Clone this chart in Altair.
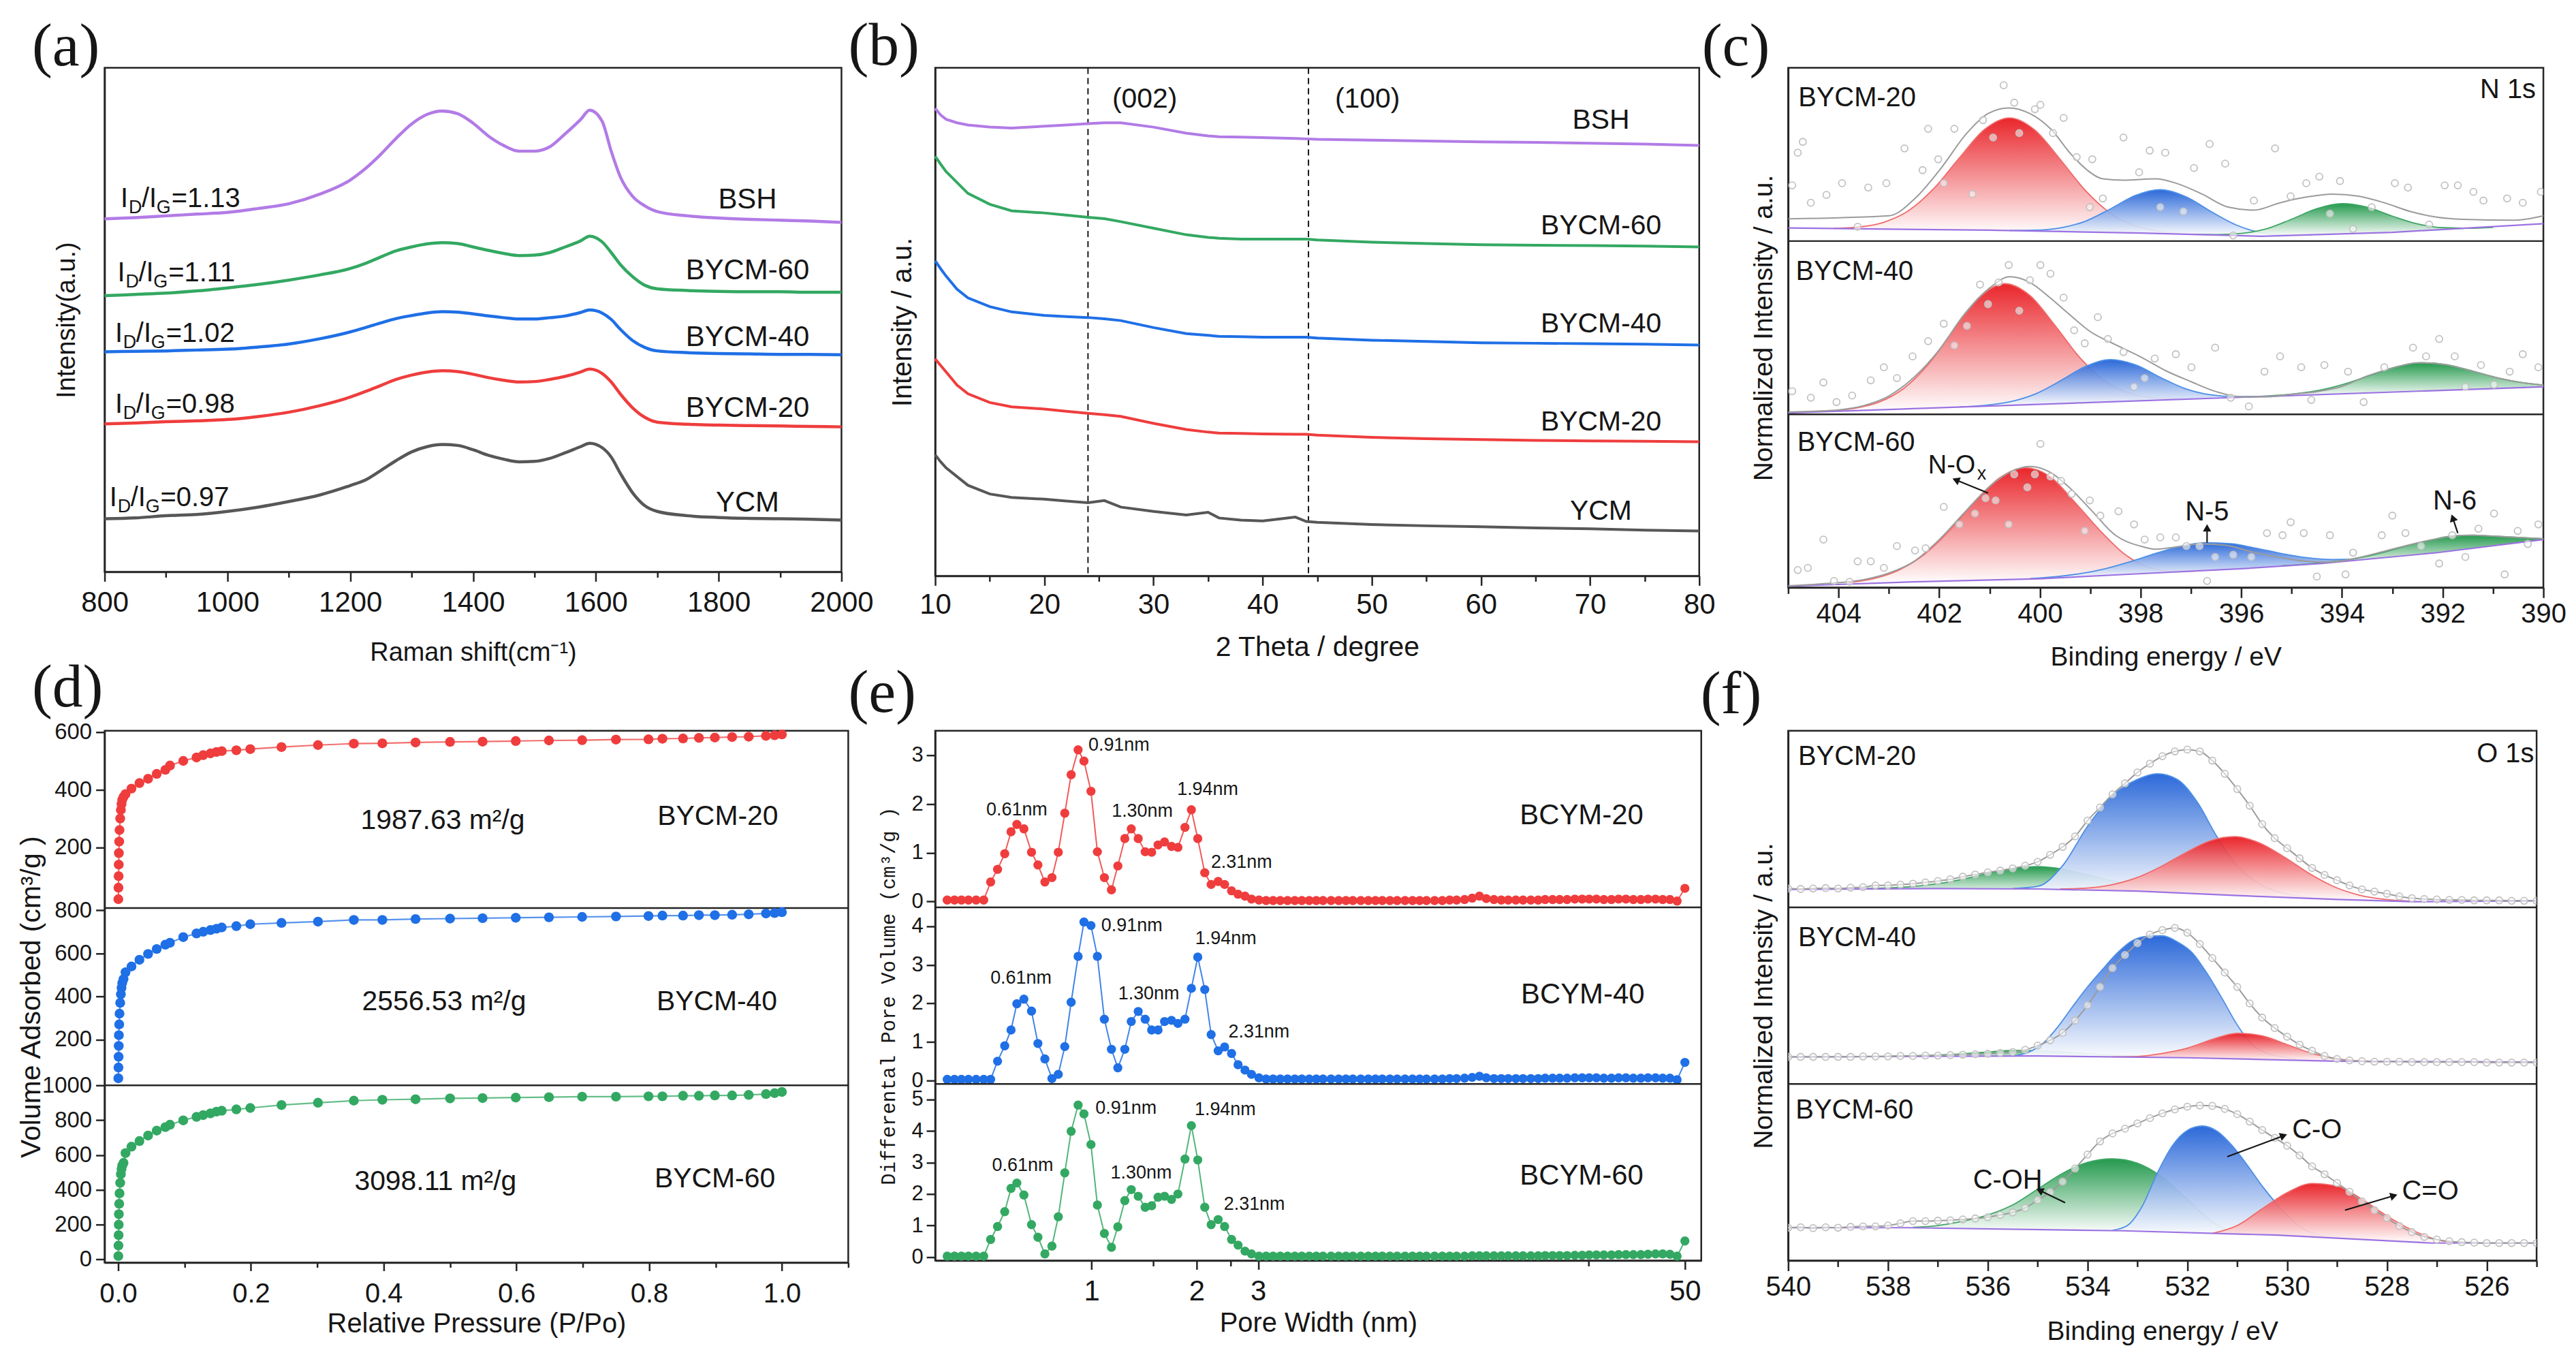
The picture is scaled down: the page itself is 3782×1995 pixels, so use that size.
import altair as alt
import pandas as pd

# ------------------------------------------------------------------ style
SANS = "Liberation Sans"
SERIF = "Liberation Serif"
MONO = "Liberation Mono"
INK = "#161616"
FRAME = "#242424"
PURPLE = "#b27be6"
GREEN = "#33a862"
BLUE = "#1f6fe6"
RED = "#ef3d3d"
GRAY = "#575757"
XPS_RED, XPS_BLUE, XPS_GREEN = "#e8161c", "#1c5ed6", "#149240"
XPS_RED_LINE, XPS_BLUE_LINE, XPS_GREEN_LINE = "#f06a6a", "#4d8fe6", "#3fa565"
XPS_BASE = "#9c72e2"
XPS_FIT = "#9b9b9b"
XPS_DOT = "#c2c2c2"

# ------------------------------------------------------------------ (a) Raman data
RAMAN_X = [800, 850, 900, 950, 1000, 1050, 1100, 1150, 1200, 1225, 1250, 1275, 1300, 1325, 1350, 1375,
           1400, 1425, 1450, 1475, 1500, 1525, 1550, 1575, 1590, 1610, 1625, 1640, 1660, 1680, 1700,
           1750, 1800, 1850, 1900, 1950, 2000]
RAMAN_YCM = [123, 125, 130, 133, 140, 150, 163, 178, 200, 213, 235, 258, 278, 290, 295, 293, 283, 270, 261,
             255, 256, 263, 276, 290, 298, 288, 266, 228, 183, 153, 140, 130, 126, 124, 123, 122, 120]
RAMAN_B20 = [343, 345, 348, 350, 353, 360, 370, 385, 405, 418, 432, 446, 456, 463, 466, 464, 458, 450, 444,
             440, 441, 446, 453, 463, 470, 460, 440, 412, 380, 358, 347, 342, 340, 339, 338, 337, 336]
RAMAN_B40 = [510, 511, 512, 514, 516, 521, 528, 540, 556, 566, 577, 587, 594, 600, 603, 602, 598, 593, 589,
             586, 586, 589, 593, 601, 607, 600, 585, 562, 536, 520, 512, 508, 506, 505, 504, 504, 503]
RAMAN_B60 = [640, 643, 646, 651, 658, 666, 676, 688, 703, 715, 730, 744, 753, 760, 763, 761, 753, 745, 738,
             733, 734, 740, 753, 767, 778, 765, 740, 712, 684, 664, 656, 652, 650, 649, 649, 648, 648]
RAMAN_BSH = [818, 821, 825, 829, 833, 842, 853, 875, 908, 935, 968, 1005, 1038, 1060, 1068, 1062, 1040, 1010,
             988, 975, 975, 985, 1015, 1048, 1070, 1045, 975, 915, 870, 848, 835, 825, 820, 817, 815, 813, 810]
RAMAN_NAMES = ["BSH", "BYCM-60", "BYCM-40", "BYCM-20", "YCM"]
RAMAN_NAME_X = [1847, 1847, 1847, 1847, 1847]
RAMAN_NAME_Y = [863, 698, 543, 380, 160]
RATIO_TXT = ["=1.13", "=1.11", "=1.02", "=0.98", "=0.97"]
RATIO_X = [826, 821, 817, 817, 808]
RATIO_Y = [846, 673, 533, 368, 153]

# ------------------------------------------------------------------ (b) XRD data
XRD_X = [10, 10.5, 11, 12, 13, 15, 17, 20, 22, 24, 25.5, 27, 30, 33, 35, 36, 38, 40, 43, 44, 45, 50, 55, 60,
         65, 70, 75, 80]
XRD_BSH = [1073, 1058, 1048, 1040, 1035, 1030, 1028, 1032, 1035, 1038, 1040, 1040, 1030, 1016, 1010, 1008,
           1007, 1006, 1004, 1003, 1002, 1000, 998, 996, 995, 993, 991, 988]
XRD_B60 = [963, 945, 928, 903, 878, 853, 838, 833, 828, 823, 820, 813, 798, 783, 777, 775, 773, 773, 773, 773,
           771, 766, 763, 760, 759, 758, 757, 755]
XRD_B40 = [723, 705, 688, 658, 638, 618, 606, 598, 595, 593, 590, 586, 570, 556, 552, 550, 549, 548, 548, 548,
           546, 541, 538, 535, 534, 533, 532, 530]
XRD_B20 = [498, 483, 468, 438, 418, 398, 388, 383, 378, 373, 370, 366, 350, 336, 330, 328, 327, 326, 325, 325,
           323, 318, 315, 313, 311, 310, 309, 308]
XRD_YCM = [278, 262, 248, 228, 208, 188, 180, 176, 172, 168, 173, 158, 148, 140, 146, 133, 128, 126, 135, 125,
           123, 118, 115, 113, 110, 108, 105, 103]
XRD_LINES = [24.0, 44.2]
XRD_PEAK_TXT = ["(002)", "(100)"]
XRD_PEAK_X = [29.2, 49.6]
XRD_PEAK_Y = [1093, 1093]
XRD_NAME_X = [71, 71, 71, 71, 71]
XRD_NAME_Y = [1045, 803, 578, 353, 148]

# ------------------------------------------------------------------ (c) N 1s data
C20_NOX_X = [404.1, 403.6, 403.1, 402.6, 402.1, 401.6, 401.1, 400.6, 400.1, 399.6, 399.1, 398.6, 398.1, 397.6, 397.1]
C20_NOX_TOP = [29.1, 32.3, 43.2, 70.5, 121.6, 191, 256.5, 283, 255, 188, 116.6, 64, 34.7, 21.8, 16.6]
C20_NOX_BOT = [28, 27.5, 27, 26.5, 26, 25, 24.5, 24, 23, 22, 21, 20, 18.5, 17, 15.5]
C20_N5_X = [400.6, 400.1, 399.6, 399.1, 398.6, 398.1, 397.6, 397.1, 396.6, 396.1, 395.6, 395.1, 394.6]
C20_N5_TOP = [24.4, 25, 30.2, 45.5, 73.8, 104.9, 118, 101.9, 67.8, 37, 19.2, 14, 14.4]
C20_N5_BOT = [24, 23, 22, 21, 20, 18.5, 17, 15.5, 14, 12.5, 11, 12, 14]
C20_N6_X = [397, 396.5, 396, 395.5, 395, 394.5, 394, 393.5, 393, 392.5, 392, 391.5, 391]
C20_N6_TOP = [15.3, 14.9, 17.7, 28, 50.3, 74.4, 86, 77.9, 57.3, 39.5, 30.7, 29.4, 31.3]
C20_N6_BOT = [15, 13.5, 12, 11, 13, 14.5, 16, 18, 20, 22.5, 25, 28, 31]
C20_BASE_X = [405, 401, 398, 395.6, 393, 390]
C20_BASE_Y = [30, 25, 18.5, 11, 20, 40]
C20_FIT_X = [405, 403.0, 402.48, 401.96, 401.45, 401.03, 400.62, 400.2, 399.79, 399.37, 399.06, 398.75, 398.34,
             397.7, 397.3, 396.78, 396.26, 395.75, 395.23, 394.71, 394.19, 393.67, 393.16, 392.64, 392.12, 391.6,
             390.56, 390]
C20_FIT_Y = [51, 58, 98, 168, 248, 293, 306, 293, 258, 198, 163, 143, 140, 143, 133, 108, 78, 71, 88, 101, 108,
             103, 88, 68, 55, 50, 48, 58]
C20_PTS_X = [404.92, 404.81, 404.71, 404.55, 404.24, 403.93, 403.62, 403.41, 403.05, 402.69, 402.33, 402.22,
             402.02, 401.70, 401.91, 401.34, 401.13, 400.93, 400.72, 400.51, 400.41, 400.10, 399.99, 399.74,
             399.53, 399.27, 398.96, 399.01, 398.75, 398.34, 398.03, 397.82, 397.61, 397.51, 397.15, 396.94,
             396.63, 396.32, 396.16, 395.75, 395.33, 395.02, 394.71, 394.45, 394.24, 394.04, 393.78, 393.41,
             392.95, 392.69, 392.27, 391.96, 391.70, 391.39, 391.19, 390.72, 390.41, 390.05]
C20_PTS_Y = [128, 203, 228, 88, 106, 133, 33, 123, 133, 213, 163, 258, 188, 258, 133, 108, 278, 238, 358, 318,
             248, 303, 313, 248, 283, 193, 188, 78, 98, 238, 158, 208, 78, 203, 68, 168, 223, 178, 13, 93, 213,
             103, 133, 148, 63, 138, 28, 78, 133, 123, 38, 128, 128, 113, 93, 98, 88, 113]

C40_NOX_X = [404.2, 403.7, 403.2, 402.7, 402.2, 401.7, 401.2, 400.7, 400.2, 399.7, 399.2, 398.7, 398.2, 397.7, 397.2]
C40_NOX_TOP = [7.4, 13.4, 27.7, 59.8, 117, 196, 269, 300, 273, 204, 129, 75.8, 47.7, 37.4, 35.4]
C40_NOX_BOT = [6.2, 8.2, 10.2, 12.2, 14.2, 16.2, 18.2, 20.2, 22.2, 24.2, 26.2, 28.2, 30.2, 32.2, 34.2]
C40_N5_X = [401.6, 401.1, 400.6, 400.1, 399.6, 399.1, 398.6, 398.1, 397.6, 397.1, 396.6, 396.1, 395.6]
C40_N5_TOP = [16.9, 20.5, 28.5, 46.2, 76.3, 109.5, 125.6, 113.5, 84.3, 58.2, 44.5, 40.5, 40.9]
C40_N5_BOT = [16.6, 18.6, 20.6, 22.6, 24.6, 26.6, 28.6, 30.6, 32.6, 34.6, 36.6, 38.6, 40.6]
C40_N6_X = [395.9, 395.4, 394.9, 394.4, 393.9, 393.4, 392.9, 392.4, 391.9, 391.4, 390.9, 390.4, 390.0]
C40_N6_TOP = [39.7, 42.6, 47.5, 56.4, 71.4, 91.1, 109.6, 118.4, 113.6, 99.1, 83.4, 72.4, 67]
C40_N6_BOT = [39.4, 41.4, 43.4, 45.4, 47.4, 49.4, 51.4, 53.4, 55.4, 57.4, 59.4, 61.4, 63]
C40_BASE_X = [405, 390]
C40_BASE_Y = [3, 63]
C40_FIT_X = [405, 404.5, 404, 403.5, 403, 402.5, 402, 401.5, 401, 400.6, 400.2, 399.8, 399.4, 399, 398.5, 398,
             397.5, 397, 396.5, 396, 395.5, 395, 394.5, 394, 393.5, 393, 392.5, 392, 391.5, 391, 390.5, 390]
C40_FIT_Y = [5, 7, 10, 20, 42, 85, 148, 230, 290, 316, 303, 268, 228, 190, 160, 132, 100, 75, 52, 40, 40, 46,
             52, 64, 88, 106, 118, 115, 102, 86, 74, 67]
C40_PTS_X = [404.92, 404.55, 404.30, 404.04, 403.73, 403.36, 403.10, 402.84, 402.53, 402.22, 401.91, 401.70,
             401.45, 401.19, 401.03, 400.82, 400.62, 400.41, 400.20, 399.99, 399.79, 399.53, 399.32, 399.11,
             398.85, 398.65, 398.34, 398.13, 397.92, 397.72, 397.30, 396.99, 396.52, 396.21, 395.85, 395.54,
             395.23, 394.81, 394.61, 394.35, 393.88, 393.57, 393.16, 392.59, 392.33, 392.07, 391.76, 391.55,
             391.24, 390.98, 390.67, 390.41, 390.10]
C40_PTS_Y = [53, 38, 73, 28, 43, 78, 108, 83, 133, 168, 208, 158, 203, 298, 253, 303, 343, 238, 308, 343, 323,
             268, 193, 163, 223, 173, 143, 63, 83, 128, 138, 108, 153, 38, 18, 98, 133, 108, 33, 113, 98, 28,
             108, 153, 133, 173, 133, 63, 113, 68, 98, 138, 108]

C60_NOX_X = [403.8, 403.3, 402.8, 402.3, 401.8, 401.3, 400.8, 400.3, 399.8, 399.3, 398.8, 398.3, 397.8, 397.3, 396.8]
C60_NOX_TOP = [11.2, 20.4, 40, 75.8, 130, 196.4, 251.8, 275.2, 255, 195, 130, 75, 45, 37, 38.6]
C60_NOX_BOT = [7.8, 9.8, 11.8, 13.6, 15, 16.4, 17.8, 19.2, 21.2, 24.1, 27.1, 30, 32.8, 35.6, 38.5]
C60_N5_X = [400.2, 399.7, 399.2, 398.7, 398.2, 397.7, 397.2, 396.7, 396.2, 395.7, 395.2, 394.7, 394.2, 393.7, 393.2]
C60_N5_TOP = [20.4, 24.5, 31.7, 43.2, 59.5, 78.3, 94.8, 103, 100.5, 90.1, 77.9, 68.4, 64.2, 65.3, 68.9]
C60_N5_BOT = [19.6, 21.8, 24.7, 27.6, 30.6, 33.4, 36.2, 39, 41.9, 45.2, 49, 52.8, 57.2, 62.6, 68.1]
C60_N6_X = [395.2, 394.7, 394.2, 393.7, 393.2, 392.7, 392.2, 391.8, 391.4, 391.0, 390.5, 390.0]
C60_N6_TOP = [49.5, 53.5, 59, 67, 80, 96, 110, 118.5, 120, 118, 115, 112]
C60_N6_BOT = [49, 52.8, 57.2, 62.6, 68.1, 73.5, 78.9, 84.3, 90, 95.7, 103, 110]
C60_BASE_X = [405, 402.5, 400, 398.3, 396, 394.4, 392.1, 390]
C60_BASE_Y = [3, 13, 20, 30, 43, 55, 80, 110]
C60_FIT_X = [405, 404.5, 404, 403.5, 403, 402.5, 402, 401.5, 401, 400.5, 400.2, 399.8, 399.4, 399, 398.5, 398,
             397.7, 397.3, 396.8, 396.3, 395.8, 395.2, 394.7, 394.3, 393.7, 393.2, 392.7, 392.2, 391.8, 391.4,
             391, 390.5, 390]
C60_FIT_Y = [4, 7, 11, 18, 33, 60, 110, 172, 232, 270, 278, 265, 228, 180, 120, 95, 88, 93, 100, 97, 82, 68,
             60, 58, 68, 82, 97, 110, 118, 120, 118, 115, 112]
C60_PTS_X = [404.81, 404.61, 404.30, 404.09, 403.78, 403.62, 403.36, 403.10, 402.84, 402.48, 402.27, 401.91,
             401.60, 401.29, 401.08, 400.88, 400.62, 400.51, 400.25, 400.10, 399.99, 399.79, 399.58, 399.37,
             399.11, 399.01, 398.80, 398.44, 398.13, 397.92, 397.61, 397.30, 397.09, 396.83, 396.68, 396.52,
             396.16, 395.80, 395.49, 395.18, 395.02, 394.76, 394.50, 394.24, 393.93, 393.78, 393.21, 393.00,
             392.74, 392.43, 392.07, 391.81, 391.55, 391.29, 390.98, 390.77, 390.51, 390.31, 390.10]
C60_PTS_Y = [40, 45, 110, 15, 13, 60, 60, 45, 95, 85, 90, 185, 145, 170, 205, 200, 145, 260, 230, 260, 330,
             255, 245, 215, 130, 200, 165, 175, 145, 110, 115, 115, 95, 95, 15, 70, 75, 70, 125, 120, 150, 125,
             25, 120, 30, 80, 120, 165, 125, 95, 55, 120, 70, 135, 170, 30, 130, 100, 145]

# ------------------------------------------------------------------ (d) BET data
D_P = [0.0002, 0.0004, 0.0006, 0.0008, 0.001, 0.0015, 0.002, 0.003, 0.004, 0.005, 0.006, 0.008,
       0.011, 0.020, 0.032, 0.045, 0.058, 0.071, 0.078, 0.098, 0.118, 0.128, 0.139, 0.148, 0.156, 0.178,
       0.199, 0.246, 0.301, 0.355, 0.398, 0.448, 0.500, 0.549, 0.599, 0.649, 0.699, 0.750, 0.799, 0.820,
       0.851, 0.875, 0.899, 0.925, 0.950, 0.976, 0.989, 1.0]
D_V20 = [20, 60, 100, 140, 180, 220, 260, 300, 330, 350, 365, 375,
         385, 404, 423, 438, 455, 469, 484, 500, 512, 520, 526, 531, 534, 537, 541,
         548, 555, 560, 561, 564, 566, 567, 569, 571, 572, 574, 575, 577, 578, 580, 581, 583, 584, 587, 589, 592]
D_V40 = [20, 70, 120, 170, 220, 270, 320, 370, 410, 440, 462, 480,
         512, 539, 570, 597, 620, 640, 649, 675, 692, 700, 708, 714, 720, 726, 735,
         741, 747, 755, 755, 759, 761, 763, 765, 767, 769, 771, 773, 775, 775, 777, 777, 779, 781, 785, 787, 791]
D_V60 = [20, 80, 140, 200, 260, 320, 380, 440, 490, 520, 540, 555,
         611, 648, 680, 712, 740, 760, 774, 799, 819, 829, 839, 849, 854, 862, 870,
         887, 900, 912, 917, 920, 925, 927, 930, 932, 935, 935, 937, 937, 940, 940, 942, 942, 945, 950, 955, 962]
D_AREA_TXT = ["1987.63 m²/g", "2556.53 m²/g", "3098.11 m²/g"]
D_AREA_X = [0.489, 0.491, 0.478]
D_AREA_Y = [292, 375, 447]
D_NAME_TXT = ["BYCM-20", "BYCM-40", "BYCM-60"]
D_NAME_X = [0.9035, 0.902, 0.899]
D_NAME_Y = [305, 375, 460]

# ------------------------------------------------------------------ (e) pore size data
E_X = [0.386, 0.405, 0.424, 0.444, 0.467, 0.491, 0.514, 0.538, 0.564, 0.588, 0.611, 0.640, 0.673, 0.702,
       0.735, 0.770, 0.803, 0.838, 0.874, 0.915, 0.951, 0.996, 1.039, 1.088, 1.140, 1.189, 1.245, 1.299,
       1.360, 1.424, 1.486, 1.550, 1.618, 1.694, 1.767, 1.851, 1.931, 2.014, 2.109, 2.200, 2.304, 2.404,
       2.517, 2.627, 2.750, 2.870, 3.015,
       3.16, 3.31, 3.47, 3.64, 3.82, 4.0, 4.2, 4.4, 4.6, 4.85, 5.1, 5.35, 5.6, 5.9, 6.2, 6.5, 6.8, 7.15,
       7.5, 7.9, 8.3, 8.7, 9.1, 9.6, 10.1, 10.6, 11.1, 11.7, 12.3, 12.9, 13.5, 14.2, 14.9, 15.6, 16.4,
       17.2, 18.1, 19.0, 19.9, 20.9, 21.9, 23.0, 24.2, 25.4, 26.6, 27.9, 29.3, 30.8, 32.3, 33.9, 35.6,
       37.4, 39.2, 41.2, 43.2, 45.3, 47.5, 50.0]
E_V20 = [0.03, 0.03, 0.03, 0.03, 0.03, 0.03, 0.40, 0.66, 0.98, 1.43, 1.58, 1.49, 1.01, 0.75, 0.40, 0.49,
         1.01, 1.81, 2.60, 3.11, 2.88, 2.26, 1.02, 0.49, 0.24, 0.73, 1.29, 1.49, 1.29, 1.02, 1.01, 1.16,
         1.22, 1.13, 1.11, 1.52, 1.88, 1.29, 0.59, 0.35, 0.41, 0.35, 0.22, 0.15, 0.11, 0.05, 0.03,
         0.02, 0.02, 0.02, 0.02, 0.02, 0.02, 0.02, 0.02, 0.02, 0.02, 0.02, 0.02, 0.02, 0.02, 0.02, 0.02,
         0.02, 0.02, 0.02, 0.02, 0.02, 0.02, 0.02, 0.02, 0.02, 0.03, 0.03, 0.04, 0.07, 0.11, 0.06, 0.04,
         0.03, 0.03, 0.03, 0.03, 0.03, 0.03, 0.04, 0.04, 0.04, 0.04, 0.05, 0.05, 0.05, 0.05, 0.04, 0.04,
         0.05, 0.05, 0.04, 0.04, 0.05, 0.05, 0.04, 0.04, 0.01, 0.27]
E_V40 = [0.03, 0.03, 0.03, 0.03, 0.03, 0.03, 0.03, 0.50, 0.90, 1.31, 1.99, 2.11, 1.80, 0.96, 0.56, 0.05,
         0.16, 0.88, 2.03, 3.22, 4.11, 4.02, 3.22, 1.59, 0.81, 0.33, 0.81, 1.53, 1.79, 1.59, 1.31, 1.31,
         1.53, 1.56, 1.48, 1.59, 2.39, 3.20, 2.36, 1.19, 0.77, 0.87, 0.70, 0.41, 0.27, 0.16, 0.07,
         0.04, 0.04, 0.04, 0.04, 0.04, 0.04, 0.04, 0.04, 0.04, 0.04, 0.04, 0.04, 0.04, 0.04, 0.04, 0.04,
         0.04, 0.04, 0.04, 0.04, 0.04, 0.04, 0.04, 0.04, 0.04, 0.05, 0.05, 0.06, 0.08, 0.11, 0.07, 0.05,
         0.05, 0.05, 0.05, 0.05, 0.05, 0.05, 0.06, 0.06, 0.06, 0.06, 0.07, 0.07, 0.07, 0.07, 0.06, 0.06,
         0.07, 0.07, 0.06, 0.06, 0.07, 0.07, 0.06, 0.06, 0.02, 0.47]
E_V60 = [0.03, 0.03, 0.03, 0.03, 0.03, 0.03, 0.56, 0.97, 1.44, 2.18, 2.35, 1.97, 1.03, 0.63, 0.10, 0.35,
         1.28, 2.67, 3.99, 4.82, 4.54, 3.57, 1.65, 0.75, 0.31, 0.96, 1.79, 2.14, 1.93, 1.58, 1.63, 1.90,
         1.93, 1.83, 2.00, 3.11, 4.17, 3.08, 1.58, 1.03, 1.19, 0.97, 0.56, 0.38, 0.19, 0.10, 0.03,
         0.03, 0.03, 0.03, 0.03, 0.03, 0.03, 0.03, 0.03, 0.03, 0.03, 0.03, 0.03, 0.03, 0.03, 0.03, 0.03,
         0.03, 0.03, 0.03, 0.03, 0.03, 0.03, 0.03, 0.03, 0.03, 0.03, 0.03, 0.03, 0.04, 0.04, 0.04, 0.04,
         0.04, 0.04, 0.04, 0.04, 0.04, 0.04, 0.05, 0.05, 0.05, 0.05, 0.06, 0.06, 0.07, 0.07, 0.07, 0.07,
         0.08, 0.08, 0.08, 0.08, 0.09, 0.10, 0.10, 0.09, 0.03, 0.51]
E_PEAK_TXT = ["0.61nm", "0.91nm", "1.30nm", "1.94nm", "2.31nm"]
E20_PEAK_X = [0.611, 1.198, 1.397, 2.15, 2.688]
E20_PEAK_Y = [1.87, 3.20, 1.85, 2.30, 0.80]
E40_PEAK_X = [0.628, 1.304, 1.458, 2.423, 3.015]
E40_PEAK_Y = [2.66, 4.02, 2.25, 3.68, 1.25]
E60_PEAK_X = [0.635, 1.255, 1.387, 2.414, 2.925]
E60_PEAK_Y = [2.90, 4.71, 2.67, 4.68, 1.67]
E_NAME_TXT = ["BCYM-20", "BCYM-40", "BCYM-60"]
E_NAME_X = [25.3, 25.5, 25.3]
E_NAME_Y = [1.77, 2.22, 2.57]

# ------------------------------------------------------------------ (f) O 1s data
F_X = [540, 539.75, 539.5, 539.25, 539, 538.75, 538.5, 538.25, 538, 537.75, 537.5, 537.25, 537, 536.75,
       536.5, 536.25, 536, 535.75, 535.5, 535.25, 535, 534.75, 534.5, 534.25, 534, 533.75, 533.5, 533.25,
       533, 532.75, 532.5, 532.25, 532, 531.75, 531.5, 531.25, 531, 530.75, 530.5, 530.25, 530, 529.75,
       529.5, 529.25, 529, 528.75, 528.5, 528.25, 528, 527.75, 527.5, 527.25, 527, 526.75, 526.5, 526.25,
       526, 525.75, 525.5, 525.25, 525]
F20_PTS = [43, 42, 43, 44, 43, 45, 46, 50, 50, 52, 54, 57, 60, 64, 70, 75, 80, 84, 89, 95, 104, 120, 138,
           162, 198, 228, 258, 283, 308, 328, 345, 356, 360, 356, 335, 305, 270, 232, 190, 158, 135, 112, 90,
           74, 62, 50, 41, 36, 31, 25, 21, 19, 18, 17, 17, 16, 16, 16, 15, 15, 15]
F40_PTS = [62, 62, 62, 62, 62, 62, 63, 63, 63, 64, 64, 65, 65, 66, 67, 68, 69, 71, 73, 78, 88, 100, 117, 145,
           180, 222, 265, 295, 322, 342, 352, 357, 346, 320, 288, 255, 222, 184, 152, 128, 108, 90, 76, 64, 57,
           54, 52, 51, 51, 51, 50, 50, 50, 50, 50, 50, 49, 49, 49, 49, 49]
F60_PTS = [75, 76, 74, 76, 75, 77, 78, 78, 80, 85, 90, 90, 91, 92, 94, 96, 99, 104, 110, 120, 138, 156, 180,
           210, 242, 272, 290, 301, 313, 325, 336, 345, 351, 354, 353, 346, 334, 317, 298, 280, 262, 240, 215,
           197, 177, 157, 135, 115, 97, 79, 65, 54, 48, 44, 42, 41, 40, 40, 40, 40, 40]
F20_COH_X = [538.5, 538, 537.5, 537, 536.5, 536, 535.5, 535, 534.5, 534, 533.5, 533, 532.5, 532, 531.5]
F20_COH_TOP = [43, 44.4, 47.5, 54.1, 64.5, 77.4, 88.7, 93, 87.2, 74.4, 60, 48.1, 39.2, 33.7, 30]
F20_COH_BOT = [42.5, 42.7, 42.8, 43, 42.8, 42.5, 42.3, 42, 40.8, 39.5, 38.3, 37, 34.5, 32, 29.5]
F20_CO_X = [535.5, 535, 534.5, 534, 533.5, 533, 532.6, 532.2, 531.8, 531.4, 531, 530.5, 530, 529.5]
F20_CO_TOP = [43, 48, 95, 185, 255, 292, 305, 292, 240, 160, 95, 50, 30, 22]
F20_CO_BOT = [42.3, 42, 40.8, 39.5, 38.3, 37, 35, 33, 31, 29, 27, 24.8, 22.5, 20.3]
F20_CEO_X = [534.55, 534.05, 533.55, 533.05, 532.55, 532.05, 531.55, 531.05, 530.55, 530.05, 529.55, 529.05,
             528.55, 528.05, 527.55]
F20_CEO_TOP = [42.1, 43.9, 50.8, 66.2, 91.8, 123.7, 151.6, 161.5, 146.8, 114.2, 77, 46.7, 28, 18.4, 14.3]
F20_CEO_BOT = [40.8, 39.5, 38.3, 37, 34.8, 32, 29.8, 27.5, 25, 22.5, 20, 17.5, 15.5, 14, 13]
F20_BASE_X = [540, 537, 535, 533, 531, 529, 527.5, 525]
F20_BASE_Y = [41, 43, 42, 37, 27, 18, 13, 15]

F40_COH_X = [538, 537.5, 537, 536.5, 536, 535.5, 535, 534.5, 534, 533.5, 533]
F40_COH_TOP = [63.5, 64.5, 66, 69, 73, 77, 76, 73, 69, 66, 63.5]
F40_COH_BOT = [63, 63.5, 63.8, 64, 64, 64, 64, 63.3, 62.7, 62, 61.3]
F40_CO_X = [535.5, 535.2, 534.9, 534.6, 534.3, 534, 533.7, 533.4, 533.1, 532.8, 532.5, 532.2, 531.9, 531.6,
            531.3, 531, 530.7, 530.4, 530.1, 529.8]
F40_CO_TOP = [64, 72, 92, 130, 177, 222, 262, 300, 328, 338, 339, 325, 300, 252, 195, 135, 90, 70, 62, 57]
F40_CO_BOT = [64, 64, 63.7, 63.3, 62.7, 62.3, 62, 61.5, 61, 60.6, 60.3, 59.7, 59, 58.3, 57.5, 57, 56, 55.3,
              54.5, 53.8]
F40_CEO_X = [533.5, 533, 532.5, 532, 531.5, 531, 530.5, 530, 529.5, 529, 528.5, 528]
F40_CEO_TOP = [62, 63, 70, 82, 102, 116, 110, 90, 70, 58, 52.5, 51]
F40_CEO_BOT = [62, 61.3, 60.3, 59.3, 58, 57, 55.6, 54.4, 53.2, 52, 51.5, 51]
F40_BASE_X = [540, 535, 532, 529, 525]
F40_BASE_Y = [62, 64, 60, 52, 50]

F60_COH_X = [537.5, 537, 536.5, 536, 535.5, 535, 534.5, 534, 533.5, 533, 532.5, 532, 531.5, 531.2]
F60_COH_TOP = [76, 80, 90, 104, 127, 163, 199, 224, 232, 222, 190, 140, 88, 70]
F60_COH_BOT = [75, 74, 73, 72.5, 71.5, 71, 70, 69.3, 68.5, 67.5, 66, 64, 62, 61]
F60_CO_X = [533.5, 533.2, 532.9, 532.6, 532.3, 532, 531.7, 531.4, 531.1, 530.8, 530.5, 530.2, 529.9, 529.6, 529.3]
F60_CO_TOP = [69, 80, 125, 200, 262, 297, 307, 295, 262, 218, 170, 128, 92, 68, 56]
F60_CO_BOT = [68.5, 67.7, 66.8, 65.8, 64.8, 63.8, 62.9, 61.9, 60.9, 59.9, 59, 58, 56.3, 54.5, 52.8]
F60_CEO_X = [531.5, 531, 530.5, 530, 529.5, 529, 528.5, 528, 527.5, 527, 526.7]
F60_CEO_TOP = [62, 80, 118, 155, 176, 170, 140, 102, 70, 48, 41]
F60_CEO_BOT = [62, 60.6, 59, 56.8, 53.9, 51, 48, 45.2, 42.3, 40, 40]
F60_BASE_X = [540, 537.6, 533.3, 530.2, 527.1, 525]
F60_BASE_Y = [75, 75, 68, 58, 40, 40]


# ------------------------------------------------------------------ helpers
def frame(**cols):
    n = min(len(v) for v in cols.values())
    return pd.DataFrame({k: list(v)[:n] for k, v in cols.items()})


def series_df(x, pairs):
    rows = []
    for name, ys in pairs:
        for xv, yv in zip(x, ys):
            rows.append({"x": xv, "y": yv, "s": name})
    return pd.DataFrame(rows)


def tick_rule(test, major, minor):
    return {"condition": {"test": test, "value": major}, "value": minor}


def panel_title(text, dx, offset):
    return alt.TitleParams(text, dx=dx, offset=offset, anchor="start", frame="group",
                           baseline="alphabetic", font=SERIF, fontSize=90, fontWeight="normal", color=INK)


def grad(color):
    return alt.Gradient(gradient="linear",
                        stops=[alt.GradientStop(color=color, offset=0),
                               alt.GradientStop(color="#ffffff", offset=1)],
                        x1=1, x2=1, y1=0, y2=1)


def text_layer(xs, ys, ts, X, Y, size=40, align="center", baseline="middle", dx=0, dy=0, font=SANS):
    return alt.Chart(frame(x=xs, y=ys, t=ts)).mark_text(
        fontSize=size, align=align, baseline=baseline, dx=dx, dy=dy, color=INK, font=font
    ).encode(x=X, y=Y("y:Q"), text="t:N")


def arrow_layers(x0, y0, x1, y1, ang, X, Y):
    shaft = alt.Chart(frame(x=[x0, x1], y=[y0, y1])).mark_line(color=INK, strokeWidth=2.2).encode(
        x=X, y=Y("y:Q"))
    head = alt.Chart(frame(x=[x1], y=[y1], a=[ang])).mark_point(
        shape="triangle-up", filled=True, size=150, color=INK, opacity=1
    ).encode(x=X, y=Y("y:Q"), angle=alt.Angle("a:Q", scale=None))
    return [shaft, head]


# ------------------------------------------------------------------ panel (a)
W_A, H_A = 1085, 742
XA = alt.X("x:Q", scale=alt.Scale(domain=[800, 2000], nice=False, zero=False),
           axis=alt.Axis(title="Raman shift(cm⁻¹)",
                         values=[800, 900, 1000, 1100, 1200, 1300, 1400, 1500, 1600, 1700, 1800, 1900, 2000],
                         format="d", labelExpr="datum.value % 200 === 0 ? datum.label : ''",
                         tickSize=tick_rule("datum.value % 200 === 0", 14, 8),
                         labelFontSize=42, labelPadding=11, titleFontSize=38, titlePadding=34))
YA_S = alt.Scale(domain=[0, 1168], nice=False, zero=False)
YA_AX = alt.Axis(title="Intensity(a.u.)", labels=False, ticks=False, titleFontSize=38, titlePadding=36)


def YA(f):
    return alt.Y(f, scale=YA_S, axis=YA_AX)


a_df = series_df(RAMAN_X, [("YCM", RAMAN_YCM), ("BYCM-20", RAMAN_B20), ("BYCM-40", RAMAN_B40),
                           ("BYCM-60", RAMAN_B60), ("BSH", RAMAN_BSH)])
a_layers = [
    alt.Chart(a_df).mark_line(strokeWidth=4.5, interpolate="monotone").encode(
        x=XA, y=YA("y:Q"),
        color=alt.Color("s:N", scale=alt.Scale(domain=["YCM", "BYCM-20", "BYCM-40", "BYCM-60", "BSH"],
                                               range=[GRAY, RED, BLUE, GREEN, PURPLE]), legend=None)),
    text_layer(RAMAN_NAME_X, RAMAN_NAME_Y, RAMAN_NAMES, XA, YA, size=42),
]
ratio_df = frame(x=RATIO_X, y=RATIO_Y, t=RATIO_TXT)
for piece, pdx, pdy, fs in [("I", 0, 0, 40), ("D", 12, 9, 27), ("/I", 31, 0, 40), ("G", 53, 9, 27)]:
    a_layers.append(alt.Chart(ratio_df).mark_text(text=piece, dx=pdx, dy=pdy, fontSize=fs, align="left",
                                                  baseline="alphabetic", color=INK).encode(x=XA, y=YA("y:Q")))
a_layers.append(alt.Chart(ratio_df).mark_text(dx=75, fontSize=40, align="left", baseline="alphabetic",
                                              color=INK).encode(x=XA, y=YA("y:Q"), text="t:N"))
TOP_OFF = -86
panel_a = alt.layer(*a_layers).properties(width=W_A, height=H_A, title=panel_title("(a)", -107, TOP_OFF))

# ------------------------------------------------------------------ panel (b)
W_B, H_B = 1125, 748
XB = alt.X("x:Q", scale=alt.Scale(domain=[10, 80], nice=False, zero=False),
           axis=alt.Axis(title="2 Theta / degree",
                         values=[10, 15, 20, 25, 30, 35, 40, 45, 50, 55, 60, 65, 70, 75, 80],
                         format="d", labelExpr="datum.value % 10 === 0 ? datum.label : ''",
                         tickSize=tick_rule("datum.value % 10 === 0", 14, 8),
                         labelFontSize=42, labelPadding=8, titleFontSize=41, titlePadding=22))
YB_S = alt.Scale(domain=[0, 1166], nice=False, zero=False)
YB_AX = alt.Axis(title="Intensity / a.u.", labels=False, ticks=False, titleFontSize=40, titlePadding=28)


def YB(f):
    return alt.Y(f, scale=YB_S, axis=YB_AX)


b_df = series_df(XRD_X, [("YCM", XRD_YCM), ("BYCM-20", XRD_B20), ("BYCM-40", XRD_B40),
                         ("BYCM-60", XRD_B60), ("BSH", XRD_BSH)])
b_layers = [
    alt.Chart(frame(x=XRD_LINES)).mark_rule(color=INK, strokeWidth=2, strokeDash=[9, 6]).encode(x=XB),
    alt.Chart(b_df).mark_line(strokeWidth=4).encode(
        x=XB, y=YB("y:Q"),
        color=alt.Color("s:N", scale=alt.Scale(domain=["YCM", "BYCM-20", "BYCM-40", "BYCM-60", "BSH"],
                                               range=[GRAY, RED, BLUE, GREEN, PURPLE]), legend=None)),
    text_layer(XRD_PEAK_X, XRD_PEAK_Y, XRD_PEAK_TXT, XB, YB, size=41),
    text_layer(XRD_NAME_X, XRD_NAME_Y, RAMAN_NAMES, XB, YB, size=41),
]
panel_b = alt.layer(*b_layers).properties(width=W_B, height=H_B, title=panel_title("(b)", -128, TOP_OFF))


# ------------------------------------------------------------------ XPS helper
def xps_sub(X, ydom, yrange, comps, base, fit, pts, texts, arrows, title_text, sep):
    ys = alt.Scale(domain=ydom, range=yrange, nice=False, zero=False)
    if title_text:
        yax = alt.Axis(orient="left", labels=False, ticks=False, title=title_text, titleFontSize=39,
                       titlePadding=16)
    else:
        yax = alt.Axis(orient="left", labels=False, ticks=False, title=None)

    def Y(f):
        return alt.Y(f, scale=ys, axis=yax)

    layers = []
    for cx, top, bot, fillc, linec in comps:
        df = frame(x=cx, top=top, bot=bot)
        layers.append(alt.Chart(df).mark_area(interpolate="monotone", color=grad(fillc), opacity=0.93,
                                              clip=True).encode(x=X, y=Y("top:Q"), y2="bot:Q"))
        layers.append(alt.Chart(df).mark_line(interpolate="monotone", color=linec, strokeWidth=1.8,
                                              clip=True).encode(x=X, y=Y("top:Q")))
    layers.append(alt.Chart(frame(x=base[0], y=base[1])).mark_line(color=XPS_BASE, strokeWidth=2.2,
                                                                   clip=True).encode(x=X, y=Y("y:Q")))
    layers.append(alt.Chart(frame(x=fit[0], y=fit[1])).mark_line(color=XPS_FIT, strokeWidth=2,
                                                                 interpolate="monotone", clip=True).encode(
        x=X, y=Y("y:Q")))
    layers.append(alt.Chart(frame(x=pts[0], y=pts[1])).mark_point(
        shape="circle", size=100, filled=True, fill="#ffffff", fillOpacity=0.55, stroke=XPS_DOT,
        strokeWidth=1.8, opacity=1, clip=True).encode(x=X, y=Y("y:Q")))
    for t in texts:
        layers.append(text_layer([t[0]], [t[1]], [t[2]], X, Y, size=t[3], align=t[4],
                                 baseline=t[5], dx=t[6], dy=t[7]))
    for a in arrows:
        layers.extend(arrow_layers(a[0], a[1], a[2], a[3], a[4], X, Y))
    if sep:
        layers.append(alt.Chart(frame(y=[ydom[0]])).mark_rule(color=FRAME, strokeWidth=2.5).encode(y=Y("y:Q")))
    return alt.layer(*layers)


# ------------------------------------------------------------------ panel (c)
W_C, H_C = 1112, 765
XC = alt.X("x:Q", scale=alt.Scale(domain=[390, 405], reverse=True, nice=False, zero=False),
           axis=alt.Axis(title="Binding energy / eV",
                         values=[390, 391, 392, 393, 394, 395, 396, 397, 398, 399, 400, 401, 402, 403, 404, 405],
                         format="d", labelExpr="datum.value % 2 === 0 ? datum.label : ''",
                         tickSize=tick_rule("datum.value % 2 === 0", 15, 9),
                         labelFontSize=40, labelPadding=4, titleFontSize=39, titlePadding=24))
c_top = xps_sub(XC, [0, 398], [255, 0],
                [(C20_NOX_X, C20_NOX_TOP, C20_NOX_BOT, XPS_RED, XPS_RED_LINE),
                 (C20_N5_X, C20_N5_TOP, C20_N5_BOT, XPS_BLUE, XPS_BLUE_LINE),
                 (C20_N6_X, C20_N6_TOP, C20_N6_BOT, XPS_GREEN, XPS_GREEN_LINE)],
                (C20_BASE_X, C20_BASE_Y), (C20_FIT_X, C20_FIT_Y), (C20_PTS_X, C20_PTS_Y),
                [(404.8, 328, "BYCM-20", 40, "left", "middle", 0, 0),
                 (390.15, 348, "N 1s", 40, "right", "middle", 0, 0)],
                [], None, True)
c_mid = xps_sub(XC, [0, 398], [510, 255],
                [(C40_NOX_X, C40_NOX_TOP, C40_NOX_BOT, XPS_RED, XPS_RED_LINE),
                 (C40_N5_X, C40_N5_TOP, C40_N5_BOT, XPS_BLUE, XPS_BLUE_LINE),
                 (C40_N6_X, C40_N6_TOP, C40_N6_BOT, XPS_GREEN, XPS_GREEN_LINE)],
                (C40_BASE_X, C40_BASE_Y), (C40_FIT_X, C40_FIT_Y), (C40_PTS_X, C40_PTS_Y),
                [(404.85, 328, "BYCM-40", 40, "left", "middle", 0, 0)],
                [], "Normalized Intensity / a.u.", True)
c_bot = xps_sub(XC, [0, 398], [765, 510],
                [(C60_NOX_X, C60_NOX_TOP, C60_NOX_BOT, XPS_RED, XPS_RED_LINE),
                 (C60_N5_X, C60_N5_TOP, C60_N5_BOT, XPS_BLUE, XPS_BLUE_LINE),
                 (C60_N6_X, C60_N6_TOP, C60_N6_BOT, XPS_GREEN, XPS_GREEN_LINE)],
                (C60_BASE_X, C60_BASE_Y), (C60_FIT_X, C60_FIT_Y), (C60_PTS_X, C60_PTS_Y),
                [(404.82, 332, "BYCM-60", 40, "left", "middle", 0, 0),
                 (402.22, 262, "N-O", 38, "left", "alphabetic", 0, 0),
                 (402.22, 262, "x", 27, "left", "alphabetic", 72, 9),
                 (396.68, 172, "N-5", 40, "center", "middle", 0, 0),
                 (391.76, 198, "N-6", 40, "center", "middle", 0, 0)],
                [(401.03, 217, 401.67, 247, 292), (396.68, 103, 396.68, 137, 0), (391.7, 125, 391.8, 160, 341)],
                None, False)
panel_c = alt.layer(c_top, c_mid, c_bot).resolve_scale(y="independent").resolve_axis(y="independent").properties(
    width=W_C, height=H_C, title=panel_title("(c)", -127, TOP_OFF))

# ------------------------------------------------------------------ panel (d)
W_D, H_D = 1095, 783
XD = alt.X("x:Q", scale=alt.Scale(domain=[-0.0205, 1.1], nice=False, zero=False),
           axis=alt.Axis(title="Relative Pressure (P/Po)",
                         values=[0.0, 0.1, 0.2, 0.3, 0.4, 0.5, 0.6, 0.7, 0.8, 0.9, 1.0, 1.1],
                         labelExpr="(round(datum.value * 10) % 2 === 0 && datum.value < 1.05) ? format(datum.value, '.1f') : ''",
                         tickSize=tick_rule("round(datum.value * 10) % 2 === 0 && datum.value < 1.05", 12, 7),
                         labelFontSize=40, labelPadding=14, titleFontSize=40, titlePadding=4))


def bet_sub(P, V, color, ydom, yrange, yvals, title_text, texts, sep):
    ys = alt.Scale(domain=ydom, range=yrange, nice=False, zero=False)
    if title_text:
        yax = alt.Axis(orient="left", values=yvals, format="d", tickSize=13, labelFontSize=33, labelPadding=6,
                       title=title_text, titleFontSize=41, titlePadding=12)
    else:
        yax = alt.Axis(orient="left", values=yvals, format="d", tickSize=13, labelFontSize=33, labelPadding=6,
                       title=None)

    def Y(f):
        return alt.Y(f, scale=ys, axis=yax)

    df = frame(x=P, y=V)
    layers = [
        alt.Chart(df).mark_line(color=color, strokeWidth=2.2, opacity=0.75).encode(x=XD, y=Y("y:Q")),
        alt.Chart(df).mark_circle(color=color, size=210, opacity=1).encode(x=XD, y=Y("y:Q")),
    ]
    for t in texts:
        layers.append(text_layer([t[0]], [t[1]], [t[2]], XD, Y, size=41))
    if sep:
        layers.append(alt.Chart(frame(y=[ydom[0]])).mark_rule(color=FRAME, strokeWidth=2.5).encode(y=Y("y:Q")))
    return alt.layer(*layers)


d_top = bet_sub(D_P, D_V20, RED, [-10.8, 604.6], [261, 0], [200, 400, 600], None,
                [(D_AREA_X[0], D_AREA_Y[0], D_AREA_TXT[0]), (D_NAME_X[0], D_NAME_Y[0], D_NAME_TXT[0])], True)
d_mid = bet_sub(D_P, D_V40, BLUE, [-12.7, 810], [522, 261], [200, 400, 600, 800], "Volume Adsorbed (cm³/g )",
                [(D_AREA_X[1], D_AREA_Y[1], D_AREA_TXT[1]), (D_NAME_X[1], D_NAME_Y[1], D_NAME_TXT[1])], True)
d_bot = bet_sub(D_P, D_V60, GREEN, [-17.7, 1000], [783, 522], [0, 200, 400, 600, 800, 1000], None,
                [(D_AREA_X[2], D_AREA_Y[2], D_AREA_TXT[2]), (D_NAME_X[2], D_NAME_Y[2], D_NAME_TXT[2])], False)
panel_d = alt.layer(d_top, d_mid, d_bot).resolve_scale(y="independent").resolve_axis(y="independent").properties(
    width=W_D, height=H_D, title=panel_title("(d)", -107, -68))

# ------------------------------------------------------------------ panel (e)
W_E, H_E = 1128, 780
XE = alt.X("x:Q", scale=alt.Scale(type="log", domain=[0.3566, 55.7], nice=False, zero=False),
           axis=alt.Axis(title="Pore Width (nm)", values=[1, 1.5, 2, 2.5, 3, 26.5, 50],
                         labelExpr="(datum.value === 1 || datum.value === 2 || datum.value === 3 || datum.value === 50) ? format(datum.value, 'd') : ''",
                         tickSize=tick_rule("datum.value === 1 || datum.value === 2 || datum.value === 3 || datum.value === 50", 13, 8),
                         labelFontSize=42, labelPadding=12, titleFontSize=40, titlePadding=6))


def psd_sub(V, color, ydom, yrange, yvals, title_text, peak_x, peak_y, name, sep):
    ys = alt.Scale(domain=ydom, range=yrange, nice=False, zero=False)
    if title_text:
        yax = alt.Axis(orient="left", values=yvals, format="d", tickSize=13, labelFontSize=31, labelPadding=5,
                       title=title_text, titleFont=MONO, titleFontSize=29, titlePadding=18)
    else:
        yax = alt.Axis(orient="left", values=yvals, format="d", tickSize=13, labelFontSize=31, labelPadding=5,
                       title=None)

    def Y(f):
        return alt.Y(f, scale=ys, axis=yax)

    df = frame(x=E_X, y=V)
    layers = [
        alt.Chart(df).mark_line(color=color, strokeWidth=2, opacity=0.85).encode(x=XE, y=Y("y:Q")),
        alt.Chart(df).mark_circle(color=color, size=180, opacity=1).encode(x=XE, y=Y("y:Q")),
        text_layer(peak_x, peak_y, E_PEAK_TXT, XE, Y, size=27),
        text_layer([name[0]], [name[1]], [name[2]], XE, Y, size=42),
    ]
    if sep:
        layers.append(alt.Chart(frame(y=[ydom[0]])).mark_rule(color=FRAME, strokeWidth=2.5).encode(y=Y("y:Q")))
    return alt.layer(*layers)


e_top = psd_sub(E_V20, RED, [-0.12, 3.5], [260, 0], [0, 1, 2, 3], None, E20_PEAK_X, E20_PEAK_Y,
                (E_NAME_X[0], E_NAME_Y[0], E_NAME_TXT[0]), True)
e_mid = psd_sub(E_V40, BLUE, [-0.09, 4.49], [520, 260], [0, 1, 2, 3, 4], "Differental Pore Volume (cm³/g )",
                E40_PEAK_X, E40_PEAK_Y, (E_NAME_X[1], E_NAME_Y[1], E_NAME_TXT[1]), True)
e_bot = psd_sub(E_V60, GREEN, [-0.11, 5.49], [780, 520], [0, 1, 2, 3, 4, 5], None, E60_PEAK_X, E60_PEAK_Y,
                (E_NAME_X[2], E_NAME_Y[2], E_NAME_TXT[2]), False)
panel_e = alt.layer(e_top, e_mid, e_bot).resolve_scale(y="independent").resolve_axis(y="independent").properties(
    width=W_E, height=H_E, title=panel_title("(e)", -128, -62))

# ------------------------------------------------------------------ panel (f)
W_F, H_F = 1102, 780
XF = alt.X("x:Q", scale=alt.Scale(domain=[525, 540], reverse=True, nice=False, zero=False),
           axis=alt.Axis(title="Binding energy / eV",
                         values=[525, 526, 527, 528, 529, 530, 531, 532, 533, 534, 535, 536, 537, 538, 539, 540],
                         format="d", labelExpr="datum.value % 2 === 0 ? datum.label : ''",
                         tickSize=tick_rule("datum.value % 2 === 0", 15, 9),
                         labelFontSize=40, labelPadding=4, titleFontSize=39, titlePadding=26))
f_top = xps_sub(XF, [0, 403], [260, 0],
                [(F20_COH_X, F20_COH_TOP, F20_COH_BOT, XPS_GREEN, XPS_GREEN_LINE),
                 (F20_CO_X, F20_CO_TOP, F20_CO_BOT, XPS_BLUE, XPS_BLUE_LINE),
                 (F20_CEO_X, F20_CEO_TOP, F20_CEO_BOT, XPS_RED, XPS_RED_LINE)],
                (F20_BASE_X, F20_BASE_Y), (F_X, F20_PTS), (F_X, F20_PTS),
                [(539.8, 343, "BYCM-20", 40, "left", "middle", 0, 0),
                 (525.05, 350, "O 1s", 40, "right", "middle", 0, 0)],
                [], None, True)
f_mid = xps_sub(XF, [0, 404], [520, 260],
                [(F40_COH_X, F40_COH_TOP, F40_COH_BOT, XPS_GREEN, XPS_GREEN_LINE),
                 (F40_CO_X, F40_CO_TOP, F40_CO_BOT, XPS_BLUE, XPS_BLUE_LINE),
                 (F40_CEO_X, F40_CEO_TOP, F40_CEO_BOT, XPS_RED, XPS_RED_LINE)],
                (F40_BASE_X, F40_BASE_Y), (F_X, F40_PTS), (F_X, F40_PTS),
                [(539.8, 334, "BYCM-40", 40, "left", "middle", 0, 0)],
                [], "Normalized Intensity / a.u.", True)
f_bot = xps_sub(XF, [0, 403], [780, 520],
                [(F60_COH_X, F60_COH_TOP, F60_COH_BOT, XPS_GREEN, XPS_GREEN_LINE),
                 (F60_CO_X, F60_CO_TOP, F60_CO_BOT, XPS_BLUE, XPS_BLUE_LINE),
                 (F60_CEO_X, F60_CEO_TOP, F60_CEO_BOT, XPS_RED, XPS_RED_LINE)],
                (F60_BASE_X, F60_BASE_Y), (F_X, F60_PTS), (F_X, F60_PTS),
                [(539.85, 343, "BYCM-60", 40, "left", "middle", 0, 0),
                 (535.6, 183, "C-OH", 40, "center", "middle", 0, 0),
                 (529.4, 297, "C-O", 40, "center", "middle", 0, 0),
                 (527.13, 157, "C=O", 40, "center", "middle", 0, 0)],
                [(534.45, 132, 534.96, 160, 295), (531.2, 237, 530.07, 285, 70), (528.84, 115, 527.86, 148, 74)],
                None, False)
panel_f = alt.layer(f_top, f_mid, f_bot).resolve_scale(y="independent").resolve_axis(y="independent").properties(
    width=W_F, height=H_F, title=panel_title("(f)", -129, -64))

# ------------------------------------------------------------------ assemble
chart = alt.concat(
    panel_a, panel_b, panel_c, panel_d, panel_e, panel_f,
    columns=3, bounds="flush", spacing={"row": 211, "column": 128},
    align={"row": "each", "column": "none"},
).properties(
    padding={"left": 16, "top": 10, "right": 5, "bottom": 5},
    background="white",
).configure_view(
    stroke=FRAME, strokeWidth=2.5
).configure_axis(
    labelFont=SANS, titleFont=SANS, labelColor=INK, titleColor=INK, domainColor=FRAME, domainWidth=2.5,
    tickColor=FRAME, tickWidth=2.5, grid=False, labelFlush=False, labelOverlap=False, titleFontWeight="normal"
).configure_text(font=SANS)

chart.save("out.html", embed_options={"renderer": "svg", "actions": False})
